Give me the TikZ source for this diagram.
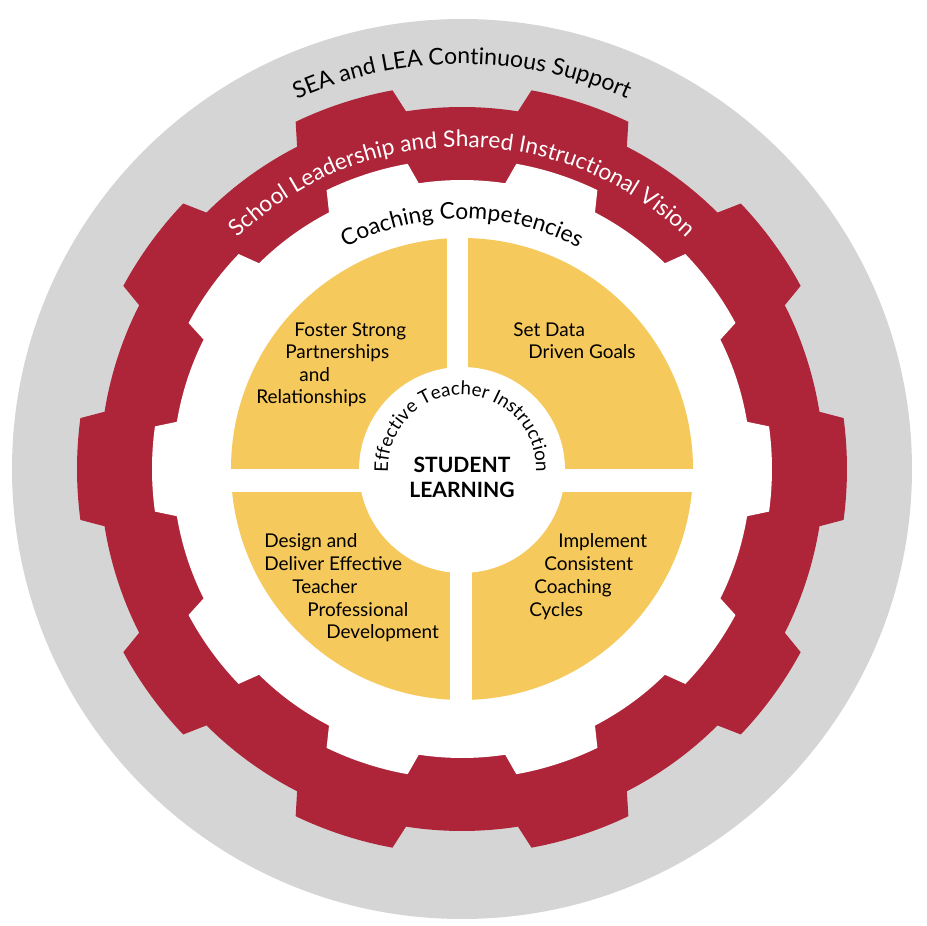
\documentclass[tikz,border=0pt]{standalone}
\usepackage{fontspec}
\setmainfont{Lato}
\usepackage{xcolor}
\usetikzlibrary{decorations.text}
\definecolor{gearred}{RGB}{174,36,56}
\definecolor{supportgray}{RGB}{214,213,214}
\definecolor{coachyellow}{RGB}{246,201,92}

\tikzset{
  ringtext/.style={decorate, decoration={text along path, text align=center, text={#1}}},
  quadline/.style={anchor=base west, inner sep=0pt, font=\fontsize{10.8}{13}\selectfont},
  coreline/.style={anchor=base, inner sep=0pt, font=\bfseries\fontsize{12}{14}\selectfont}
}

\begin{document}
\begin{tikzpicture}[x=0.02cm, y=0.02cm]
  \useasboundingbox (-462,-457) rectangle (465,469);
  % outer support ring
  \fill[supportgray] (0,0) circle[radius=450];

  % red gear, ten teeth
  \fill[gearred] (-9.1:362)
    \foreach \a in {0,36,...,324} {
      -- (\a-9.1:362) -- (\a-7.6:385)
      arc[start angle=\a-7.6, end angle=\a+7.6, radius=385]
      -- (\a+9.1:362)
      arc[start angle=\a+9.1, end angle=\a+26.9, radius=362]
    } -- cycle;
  \fill[white] (-9.4:289)
    \foreach \a in {0,36,...,324} {
      -- (\a-9.4:289) -- (\a-7.9:310)
      arc[start angle=\a-7.9, end angle=\a+7.9, radius=310]
      -- (\a+9.4:289)
      arc[start angle=\a+9.4, end angle=\a+26.6, radius=289]
    } -- cycle;

  % four competencies
  \fill[coachyellow] (0,0) circle[radius=231];
  \fill[white] (-15,0) rectangle (6,240);
  \fill[white] (-12,-23) rectangle (10,-240);
  \fill[white] (-240,0) rectangle (240,-23);
  \fill[white] (0,-1) circle[radius=103];

  % curved labels
  \path[ringtext={|\fontsize{13.1}{15}\selectfont|SEA and LEA Continuous Support}]
    (180:405) arc[start angle=180, end angle=0, radius=405];
  \path[ringtext={|\color{white}\fontsize{12.9}{15}\selectfont|School Leadership and Shared Instructional Vision}]
    (180:322) arc[start angle=180, end angle=0, radius=322];
  \path[ringtext={|\fontsize{13}{15}\selectfont|Coaching Competencies}]
    (180:250) arc[start angle=180, end angle=0, radius=250];
  \path[ringtext={|\fontsize{10.7}{12}\selectfont|Effective Teacher Instruction}]
    (180:74) arc[start angle=180, end angle=0, radius=74];

  % quadrant texts
  \foreach \x/\y/\t [count=\i] in {
      -168/132/Foster Strong, -177/110/Partnerships, -163/87/and, -206/65/Relationships,
      51/132/Set Data, 66/110/Driven Goals,
      -198/-79/Design and, -198/-102/Deliver Effective, -170/-125/Teacher,
      -155/-148/Professional, -136/-170/Development,
      96/-79/Implement, 82/-102/Consistent, 72/-125/Coaching, 67/-148/Cycles}
    \node[quadline] (line\i) at (\x,\y) {\t};

  \node[coreline] (student) at (0,-4) {STUDENT};
  \node[coreline] (learning) at (0,-29) {LEARNING};
\end{tikzpicture}
\end{document}
